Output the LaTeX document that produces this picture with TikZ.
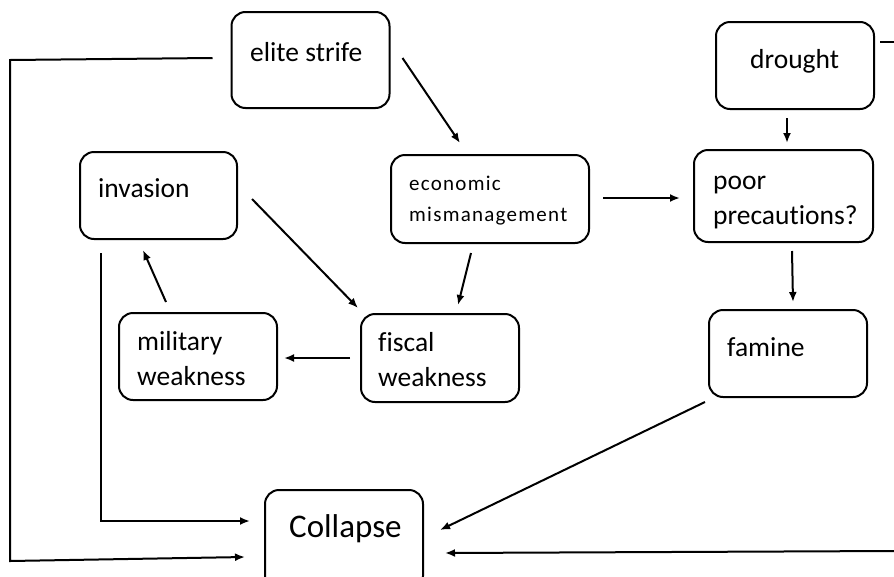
\documentclass[tikz,border=0pt]{standalone}
\usepackage{fontspec}
\setmainfont{Carlito}[Ligatures=NoCommon]
\usetikzlibrary{arrows.meta}
\begin{document}
\begin{tikzpicture}[x=1pt,y=-1pt,
  box/.style={draw, line width=2pt, rounded corners=14pt, minimum width=158pt, minimum height=88pt, inner sep=0pt, outer sep=0pt},
  txt/.style={anchor=base west, inner sep=0pt, font=\fontsize{27.5}{35}\selectfont, align=left},
  small/.style={anchor=base west, inner sep=0pt, font=\fontsize{21}{31}\selectfont\addfontfeatures{LetterSpace=6}, align=left},
  line/.style={line width=2pt},
  arr/.style={line width=2pt, -{Latex[length=10pt,width=8pt]}}]
\clip (0,0) rectangle (894,576);
\fill[white] (0,0) rectangle (894,576);
% boxes
\node[box, minimum height=96pt] (elite) at (310.5,60) {};
\node[box, minimum height=87pt] (drought) at (795,65.5) {};
\node[box, minimum width=198pt] (econ) at (490,199) {};
\node[box, minimum width=179pt, minimum height=92pt] (poor) at (783.5,196) {};
\node[box, minimum width=157pt, minimum height=87pt] (invasion) at (158.5,195.5) {};
\node[box, minimum height=87pt] (military) at (198,356.5) {};
\node[box] (fiscal) at (440,358) {};
\node[box, minimum height=87pt] (famine) at (788,353.5) {};
\node[box, minimum height=100pt] (collapse) at (344,540) {};
% texts
\node[txt] (t1) at (250,61) {elite strife};
\node[txt] (t2) at (750,68) {drought};
\node[small] (t3) at (409,221) {economic\\mismanagement};
\node[txt] (t4) at (713,224) {poor\\precautions?};
\node[txt] (t5) at (98,197) {invasion};
\node[txt] (t6) at (137,385) {military\\weakness};
\node[txt] (t7) at (378,386) {fiscal\\weakness};
\node[txt] (t8) at (727,356) {famine};
\node[anchor=base west, inner sep=0pt, font=\fontsize{33}{38}\selectfont] (t9) at (289,537) {Collapse};
% connectors
\draw[arr] ([shift={(13,-2)}]elite.east) -- ([shift={(-30,-12)}]econ.north);
\draw[arr] ([shift={(14,-1)}]econ.east) -- ([shift={(-14,2)}]poor.west);
\draw[arr] ([shift={(-8,9)}]drought.south) -- ([shift={(3.5,-7)}]poor.north);
\draw[arr] ([shift={(8.5,9)}]poor.south) -- ([shift={(5,-8)}]famine.north);
\draw[arr] ([shift={(-19,10)}]econ.south) -- ([shift={(18,-9)}]fiscal.north);
\draw[arr] ([shift={(15,3.5)}]invasion.east) -- ([shift={(-3,-6)}]fiscal.north west);
\draw[arr] ([shift={(-11,0)}]fiscal.west) -- ([shift={(7,1.5)}]military.east);
\draw[arr] ([shift={(-32,-11)}]military.north) -- ([shift={(-15.5,11)}]invasion.south);
\draw[arr] ([shift={(21,14)}]invasion.south west) |- ([shift={(-15,-19)}]collapse.west);
\coordinate (eL) at ([shift={(-19,-2)}]elite.west);
\coordinate (eC1) at (10,60);
\coordinate (eC2) at (10,561);
\draw[arr] (eL) -- (eC1) -- (eC2) -- ([shift={(-20,17)}]collapse.west);
\coordinate (dR) at (894,42);
\draw[line] ([shift={(6,-23.5)}]drought.east) -- (dR);
\coordinate (cR) at (894,551);
\draw[arr] (cR) -- ([shift={(22,13)}]collapse.east);
\draw[arr] ([shift={(-4,5)}]famine.south west) -- ([shift={(17,-10)}]collapse.east);
\end{tikzpicture}
\end{document}
